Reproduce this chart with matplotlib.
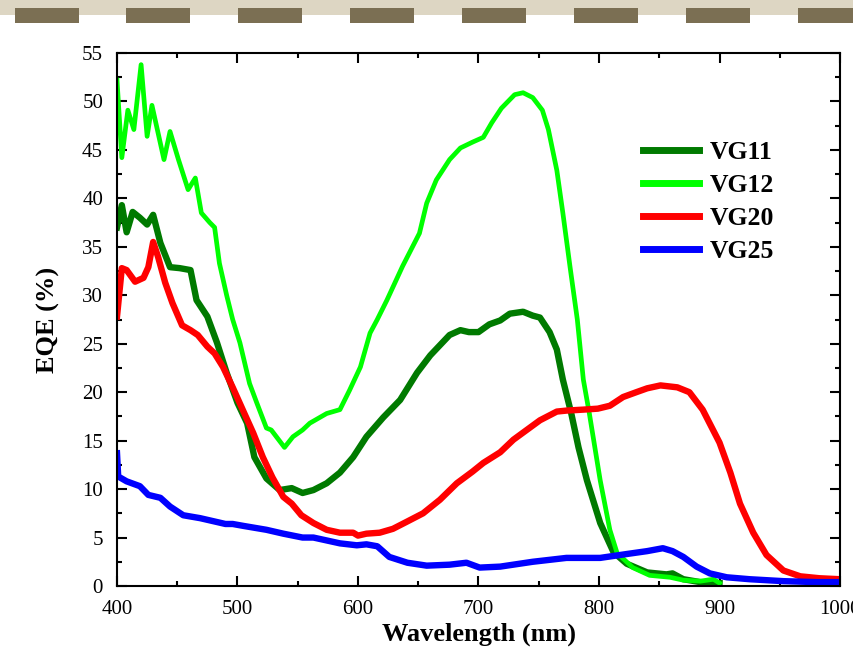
import matplotlib
matplotlib.use("Agg")
import matplotlib.pyplot as plt
from matplotlib.patches import Rectangle
from matplotlib.ticker import MultipleLocator

plt.rcParams['font.family'] = ['Liberation Serif', 'DejaVu Serif']

# ---------------- data ----------------
vg11_x = [400, 404, 408, 413, 419, 425, 430, 436, 444, 452, 461, 466, 475, 483, 491, 500,
          508, 514, 524, 535, 545, 554, 563, 574, 585, 596, 607, 621, 635, 649, 660, 676,
          685, 692, 700, 709, 718, 726, 737, 745, 751, 759, 765, 770, 777, 783, 790, 801,
          812, 823, 840, 856, 861, 870, 884, 900]
vg11_y = [37.0, 39.3, 36.5, 38.6, 38.0, 37.3, 38.3, 35.4, 32.9, 32.8, 32.6, 29.5, 27.8, 25.1, 22.0, 18.9,
          16.8, 13.3, 11.1, 9.9, 10.1, 9.6, 9.9, 10.6, 11.7, 13.3, 15.4, 17.4, 19.2, 22.0, 23.8, 25.9,
          26.4, 26.2, 26.2, 27.0, 27.4, 28.1, 28.3, 27.9, 27.7, 26.2, 24.4, 21.3, 17.8, 14.3, 10.9, 6.5,
          3.5, 2.3, 1.4, 1.2, 1.3, 0.7, 0.4, 0.3]

vg12_x = [400, 404, 409, 414, 420, 425, 429, 439, 444, 451, 459, 465, 470, 477, 481, 485, 491,
          496, 502, 510, 516, 524, 528, 539, 546, 554, 560, 574, 585, 593, 602, 610, 616, 624,
          637, 651, 657, 665, 676, 685, 695, 704, 711, 719, 730, 737, 745, 753, 758, 765, 770,
          776, 782, 787, 792, 801, 809, 815, 828, 842, 859, 870, 884, 895, 900]
vg12_y = [52.2, 44.2, 49.1, 47.1, 53.8, 46.4, 49.6, 44.0, 46.9, 44.0, 40.9, 42.1, 38.5, 37.5, 37.0, 33.3, 30.0,
          27.5, 25.1, 20.9, 18.9, 16.3, 16.1, 14.3, 15.4, 16.1, 16.8, 17.8, 18.2, 20.2, 22.6, 26.1, 27.5, 29.5,
          33.0, 36.4, 39.5, 41.9, 44.0, 45.2, 45.8, 46.3, 47.8, 49.3, 50.7, 50.9, 50.4, 49.1, 47.1, 42.9, 38.5,
          32.9, 27.5, 21.3, 17.8, 10.9, 5.8, 3.4, 1.9, 1.1, 0.9, 0.6, 0.5, 0.7, 0.3]

vg20_x = [400, 404, 408, 415, 422, 426, 430, 434, 440, 446, 454, 461, 467, 475, 481, 488, 496,
          505, 513, 521, 529, 538, 545, 553, 563, 574, 585, 596, 600, 607, 618, 629, 640, 654,
          668, 682, 695, 704, 718, 729, 740, 751, 765, 773, 787, 799, 809, 820, 831, 840, 851,
          865, 875, 886, 900, 909, 917, 928, 939, 953, 967, 983, 1000]
vg20_y = [27.8, 32.8, 32.6, 31.4, 31.8, 32.9, 35.5, 34.0, 31.3, 29.2, 26.9, 26.4, 25.9, 24.7, 24.0, 22.6, 20.5,
          18.0, 15.8, 13.3, 11.2, 9.2, 8.5, 7.3, 6.5, 5.8, 5.5, 5.5, 5.2, 5.4, 5.5, 5.9, 6.6, 7.5,
          8.9, 10.6, 11.8, 12.7, 13.8, 15.1, 16.1, 17.1, 18.0, 18.1, 18.2, 18.3, 18.6, 19.5, 20.0, 20.4, 20.7,
          20.5, 20.0, 18.2, 14.8, 11.7, 8.5, 5.5, 3.2, 1.6, 1.0, 0.8, 0.7]

vg25_x = [400, 401, 408, 419, 426, 436, 444, 455, 469, 483, 490, 496, 505, 524, 538, 554, 563,
          585, 599, 607, 616, 626, 641, 657, 676, 690, 701, 718, 745, 773, 801, 823, 840, 853,
          861, 870, 881, 892, 906, 925, 953, 981, 1000]
vg25_y = [13.7, 11.3, 10.8, 10.3, 9.4, 9.1, 8.2, 7.3, 7.0, 6.6, 6.4, 6.4, 6.2, 5.8, 5.4, 5.0, 5.0,
          4.4, 4.2, 4.3, 4.1, 3.0, 2.4, 2.1, 2.2, 2.4, 1.9, 2.0, 2.5, 2.9, 2.9, 3.3, 3.6, 3.9,
          3.6, 3.0, 2.0, 1.3, 0.9, 0.7, 0.5, 0.4, 0.4]

series_names = ["VG11", "VG12", "VG20", "VG25"]
x_ticks = [400, 500, 600, 700, 800, 900, 1000]
y_ticks = [0, 5, 10, 15, 20, 25, 30, 35, 40, 45, 50, 55]

# ---------------- figure ----------------
fig = plt.figure(figsize=(8.54, 6.49), dpi=100)
W, H = 854, 649

# decorative top band
fig.patches.append(Rectangle((0, 1 - 15 / H), 1, 15 / H, transform=fig.transFigure,
                             facecolor="#ddd6c3", edgecolor="none", zorder=0))
for left in [15, 126, 238, 350, 462, 574, 686, 798]:
    fig.patches.append(Rectangle((left / W, 1 - 23 / H), 64 / W, 15 / H, transform=fig.transFigure,
                                 facecolor="#7b6f53", edgecolor="none", zorder=1))

ax = fig.add_axes([117 / W, 1 - 586 / H, 723 / W, 533 / H])

ax.plot(vg11_x, vg11_y, color="#007a00", lw=4.6, label=series_names[0], solid_joinstyle="round")
ax.plot(vg12_x, vg12_y, color="#00ff00", lw=3.4, label=series_names[1], solid_joinstyle="round")
ax.plot(vg20_x, vg20_y, color="#ff0000", lw=4.6, label=series_names[2], solid_joinstyle="round")
ax.plot(vg25_x, vg25_y, color="#0000ff", lw=4.6, label=series_names[3], solid_joinstyle="round")

ax.set_xlim(400, 1000)
ax.set_ylim(0, 55)
ax.set_xticks(x_ticks)
ax.set_yticks(y_ticks)
ax.xaxis.set_minor_locator(MultipleLocator(50))
ax.yaxis.set_minor_locator(MultipleLocator(2.5))
ax.tick_params(which="both", direction="in", top=True, right=True, labelsize=15, width=1.5)
ax.tick_params(which="major", length=7, pad=10)
ax.tick_params(which="minor", length=3.5)
for s in ax.spines.values():
    s.set_linewidth(1.5)

ax.set_xlabel("Wavelength (nm)", fontsize=19, fontweight="bold", labelpad=3)
ax.set_ylabel("EQE (%)", fontsize=19, fontweight="bold", labelpad=16)

leg = ax.legend(loc="upper left", bbox_to_anchor=(0.713, 0.855), frameon=False,
                prop={"weight": "bold", "size": 18.5}, handlelength=2.2, handletextpad=0.4,
                labelspacing=0.39, borderaxespad=0)
for h in leg.get_lines():
    h.set_linewidth(5)

fig.savefig("out.png", dpi=100)
